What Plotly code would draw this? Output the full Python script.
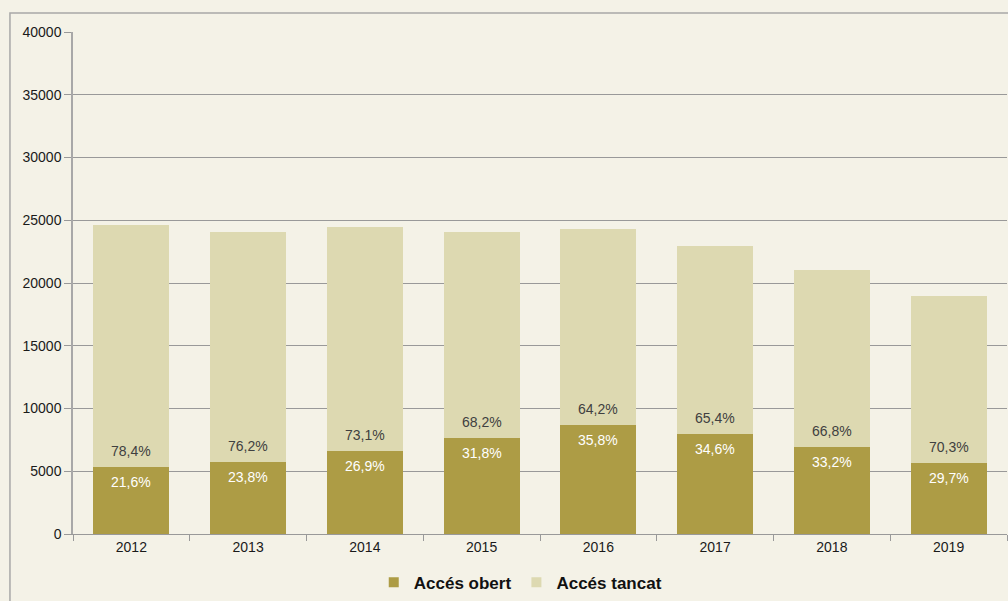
import plotly.graph_objects as go

# Values
years = ["2012", "2013", "2014", "2015", "2016", "2017", "2018", "2019"]
obert = [5324, 5736, 6588, 7664, 8710, 7951, 6972, 5622]
tancat = [19326, 18364, 17902, 16436, 15620, 15029, 14028, 13308]
obert_pct = ["21,6%", "23,8%", "26,9%", "31,8%", "35,8%", "34,6%", "33,2%", "29,7%"]
tancat_pct = ["78,4%", "76,2%", "73,1%", "68,2%", "64,2%", "65,4%", "66,8%", "70,3%"]

BG = "#F4F2E7"
C_OBERT = "#AD9C45"
C_TANCAT = "#DDD9B1"
FONT = "Liberation Sans, Arial, sans-serif"

fig = go.Figure()

fig.add_trace(go.Bar(
    x=years, y=obert, name="Accés obert", showlegend=False,
    marker=dict(color=C_OBERT, line=dict(width=0)),
))
fig.add_trace(go.Bar(
    x=years, y=tancat, name="Accés tancat", showlegend=False,
    marker=dict(color=C_TANCAT, line=dict(width=0)),
))

# legend entries with small square swatches, like the Excel original
for name, col in (("Accés obert", C_OBERT), ("Accés tancat", C_TANCAT)):
    fig.add_trace(go.Scatter(
        x=[years[0]], y=[None], mode="markers", name=name,
        marker=dict(symbol="square", size=10, color=col),
    ))

# percentage labels either side of the boundary between the two segments
# (category index as x: numeric-looking year strings get read as indices)
for i, (ob, po, pt) in enumerate(zip(obert, obert_pct, tancat_pct)):
    fig.add_annotation(x=i, y=ob, text=po, showarrow=False, yshift=-15,
                       font=dict(color="white", size=14, family=FONT))
    fig.add_annotation(x=i, y=ob, text=pt, showarrow=False, yshift=16,
                       font=dict(color="#404040", size=14, family=FONT))

# outer frame of the chart area, partly cut off like the reference
fig.add_shape(
    type="rect", xref="paper", yref="paper",
    x0=-0.0675, y0=-0.3, x1=1.2, y1=1.0378,
    line=dict(color="#A8A8A8", width=1.5), fillcolor="rgba(0,0,0,0)",
    layer="below",
)

fig.update_layout(
    width=1008, height=601,
    margin=dict(l=73, r=1, t=32, b=66),
    barmode="stack", bargap=0.35,
    paper_bgcolor=BG, plot_bgcolor=BG,
    font=dict(family=FONT, size=14, color="#1a1a1a"),
    showlegend=True,
    legend=dict(
        orientation="h", x=0.322, xanchor="left", y=-0.095, yanchor="middle",
        font=dict(size=17, color="#111", weight="bold"),
        itemwidth=30, traceorder="normal", bgcolor="rgba(0,0,0,0)",
    ),
)
fig.update_xaxes(
    type="category", categoryorder="array", categoryarray=years,
    range=[-0.5, len(years) - 0.5],
    showline=True, linecolor="#999999", linewidth=1,
    ticks="outside", tickson="boundaries", ticklen=6, tickcolor="#999999",
    showgrid=False, tickfont=dict(size=14, color="#1a1a1a"),
)
fig.update_yaxes(
    range=[0, 40000], dtick=5000, tickformat="d",
    showline=True, linecolor="#A8A8A8", linewidth=1.5,
    ticks="outside", ticklen=7, tickcolor="#999999",
    showgrid=True, gridcolor="#999999", gridwidth=1,
    zeroline=False, tickfont=dict(size=14, color="#1a1a1a"),
)

fig.write_html(
    "out.html",
    config={"displayModeBar": False},
    post_script="document.body.style.margin='0';document.body.style.background='" + BG + "';",
)
